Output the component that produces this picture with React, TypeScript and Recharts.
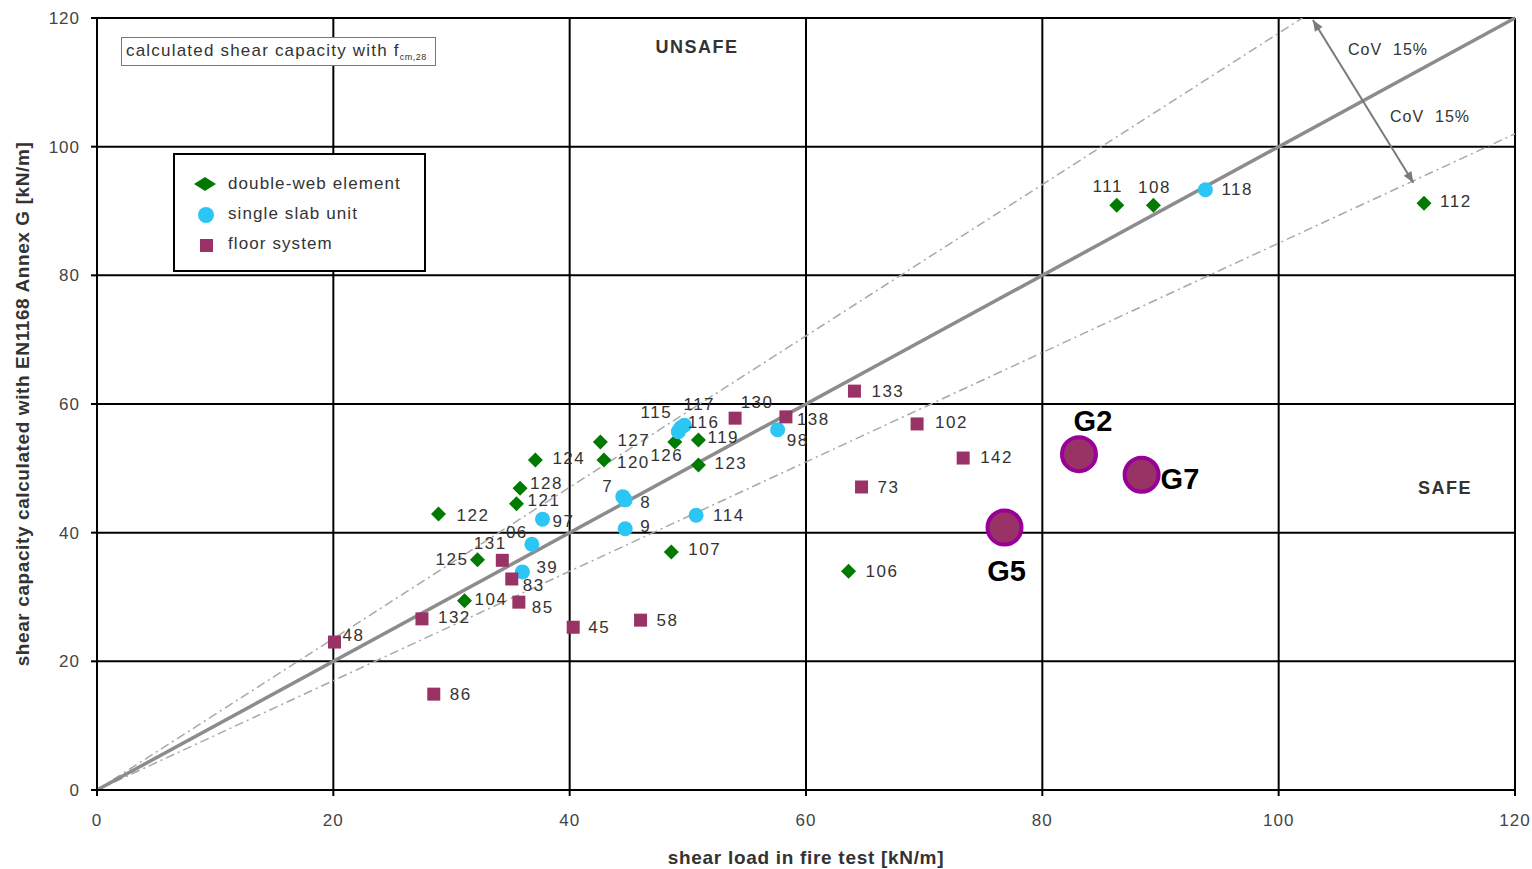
import React from "react";
import {
  ScatterChart,
  Scatter,
  XAxis,
  YAxis,
  CartesianGrid,
  ReferenceLine,
  Label,
} from "recharts";

type Pt = { x: number; y: number; label: string };

const axisTicks = [0, 20, 40, 60, 80, 100, 120];

const doubleWebPoints: Pt[] = [
  { x: 86.3, y: 90.9, label: "111" },
  { x: 89.4, y: 90.9, label: "108" },
  { x: 112.3, y: 91.2, label: "112" },
  { x: 37.1, y: 51.3, label: "124" },
  { x: 42.6, y: 54.1, label: "127" },
  { x: 42.9, y: 51.3, label: "120" },
  { x: 48.9, y: 54.1, label: "126" },
  { x: 50.9, y: 54.4, label: "119" },
  { x: 50.9, y: 50.5, label: "123" },
  { x: 35.8, y: 46.9, label: "128" },
  { x: 35.5, y: 44.5, label: "121" },
  { x: 28.9, y: 42.9, label: "122" },
  { x: 32.2, y: 35.8, label: "125" },
  { x: 31.1, y: 29.4, label: "104" },
  { x: 48.6, y: 37.0, label: "107" },
  { x: 63.6, y: 34.0, label: "106" },
];

const singleSlabPoints: Pt[] = [
  { x: 93.8, y: 93.3, label: "118" },
  { x: 49.2, y: 55.7, label: "115" },
  { x: 49.7, y: 56.7, label: "117" },
  { x: 49.4, y: 56.3, label: "116" },
  { x: 57.6, y: 56.0, label: "98" },
  { x: 44.5, y: 45.6, label: "7" },
  { x: 44.7, y: 45.1, label: "8" },
  { x: 44.7, y: 40.6, label: "9" },
  { x: 50.7, y: 42.7, label: "114" },
  { x: 37.7, y: 42.1, label: "97" },
  { x: 36.8, y: 38.2, label: "06" },
  { x: 36.0, y: 33.9, label: "39" },
];

const floorSystemPoints: Pt[] = [
  { x: 64.1, y: 62.0, label: "133" },
  { x: 69.4, y: 56.9, label: "102" },
  { x: 73.3, y: 51.6, label: "142" },
  { x: 64.7, y: 47.1, label: "73" },
  { x: 54.0, y: 57.8, label: "130" },
  { x: 58.3, y: 58.0, label: "138" },
  { x: 34.3, y: 35.7, label: "131" },
  { x: 35.1, y: 32.8, label: "83" },
  { x: 35.7, y: 29.2, label: "85" },
  { x: 27.5, y: 26.6, label: "132" },
  { x: 40.3, y: 25.3, label: "45" },
  { x: 46.0, y: 26.4, label: "58" },
  { x: 20.1, y: 23.0, label: "48" },
  { x: 28.5, y: 14.9, label: "86" },
];

const testPoints: Pt[] = [
  { x: 83.1, y: 52.2, label: "G2" },
  { x: 88.4, y: 49.0, label: "G7" },
  { x: 76.8, y: 40.8, label: "G5" },
];

// lines: y = x and the ±15 % CoV band
const meanLine = [{ x: 0, y: 0 }, { x: 120, y: 120 }];
const upperLine = [{ x: 0, y: 0 }, { x: 102, y: 120 }];
const lowerLine = [{ x: 0, y: 0 }, { x: 120, y: 102 }];
const covArrow = [{ x: 102.9, y: 119.7 }, { x: 111.4, y: 94.4 }];

const legendItems = ["double-web element", "single slab unit", "floor system"];

// label placement relative to the marker centre
type Place = { dx: number; dy: number; anchor?: "start" | "middle" | "end" };
const labelPlace: Record<string, Place> = {
  "111": { dx: -9, dy: -19, anchor: "middle" },
  "108": { dx: 1, dy: -18, anchor: "middle" },
  "112": { dx: 16, dy: -2 },
  "118": { dx: 16, dy: 0 },
  "124": { dx: 17, dy: -1 },
  "127": { dx: 17, dy: -1 },
  "120": { dx: 13, dy: 3 },
  "126": { dx: -8, dy: 14, anchor: "middle" },
  "119": { dx: 9, dy: -3 },
  "123": { dx: 16, dy: -2 },
  "115": { dx: -22, dy: -19, anchor: "middle" },
  "117": { dx: 15, dy: -21, anchor: "middle" },
  "116": { dx: 7, dy: -5 },
  "130": { dx: 22, dy: -16, anchor: "middle" },
  "138": { dx: 11, dy: 3 },
  "98": { dx: 20, dy: 11, anchor: "middle" },
  "7": { dx: -15, dy: -10, anchor: "middle" },
  "8": { dx: 15, dy: 3 },
  "9": { dx: 15, dy: -2 },
  "114": { dx: 17, dy: 0 },
  "97": { dx: 10, dy: 2 },
  "06": { dx: -15, dy: -12, anchor: "middle" },
  "39": { dx: 14, dy: -4 },
  "128": { dx: 10, dy: -5 },
  "121": { dx: 11, dy: -3 },
  "122": { dx: 18, dy: 1 },
  "131": { dx: -12, dy: -17, anchor: "middle" },
  "125": { dx: -9, dy: 0, anchor: "end" },
  "83": { dx: 11, dy: 7 },
  "104": { dx: 10, dy: -1 },
  "85": { dx: 13, dy: 5 },
  "132": { dx: 16, dy: -1 },
  "45": { dx: 15, dy: 0 },
  "58": { dx: 16, dy: 0 },
  "48": { dx: 8, dy: -7 },
  "86": { dx: 16, dy: 0 },
  "107": { dx: 17, dy: -2 },
  "106": { dx: 17, dy: 0 },
  "133": { dx: 17, dy: 0 },
  "102": { dx: 18, dy: -1 },
  "142": { dx: 17, dy: -1 },
  "73": { dx: 16, dy: 1 },
  G2: { dx: 14, dy: -33, anchor: "middle" },
  G7: { dx: 19, dy: 4 },
  G5: { dx: 2, dy: 43, anchor: "middle" },
};

const FONT = "'Liberation Sans', Arial, sans-serif";
const GREEN = "#007a00";
const CYAN = "#2cc6f4";
const MAROON = "#993366";

function PointLabel({ cx, cy, text, big }: { cx: number; cy: number; text: string; big?: boolean }) {
  const p = labelPlace[text] || { dx: 15, dy: 0 };
  return (
    <text
      x={cx + p.dx}
      y={cy + p.dy}
      textAnchor={p.anchor || "start"}
      dominantBaseline="central"
      fontFamily={FONT}
      fontSize={big ? 29 : 17}
      fontWeight={big ? 700 : 400}
      letterSpacing={big ? 0 : 1.5}
      fill={big ? "#000" : "#333"}
    >
      {text}
    </text>
  );
}

const diamondShape = (props: any) => {
  const { cx, cy, payload } = props;
  const r = 7.5;
  return (
    <g>
      <polygon
        points={`${cx},${cy - r} ${cx + r},${cy} ${cx},${cy + r} ${cx - r},${cy}`}
        fill={GREEN}
      />
      <PointLabel cx={cx} cy={cy} text={payload.label} />
    </g>
  );
};

const circleShape = (props: any) => {
  const { cx, cy, payload } = props;
  return (
    <g>
      <circle cx={cx} cy={cy} r={7.5} fill={CYAN} />
      <PointLabel cx={cx} cy={cy} text={payload.label} />
    </g>
  );
};

const squareShape = (props: any) => {
  const { cx, cy, payload } = props;
  return (
    <g>
      <rect x={cx - 6.5} y={cy - 6.5} width={13} height={13} fill={MAROON} />
      <PointLabel cx={cx} cy={cy} text={payload.label} />
    </g>
  );
};

const testShape = (props: any) => {
  const { cx, cy, payload } = props;
  return (
    <g>
      <circle cx={cx} cy={cy} r={17} fill={MAROON} stroke="#990099" strokeWidth={4} />
      <PointLabel cx={cx} cy={cy} text={payload.label} big />
    </g>
  );
};

const arrowShape = (props: any) => {
  const { x1, y1, x2, y2 } = props;
  if ([x1, y1, x2, y2].some((v) => typeof v !== "number")) return <g />;
  const a = Math.atan2(y2 - y1, x2 - x1);
  const head = (x: number, y: number, ang: number) => {
    const l = 11;
    const w = 4.5;
    const bx = x - l * Math.cos(ang);
    const by = y - l * Math.sin(ang);
    const px = -Math.sin(ang) * w;
    const py = Math.cos(ang) * w;
    return `${x},${y} ${bx + px},${by + py} ${bx - px},${by - py}`;
  };
  return (
    <g>
      <line x1={x1} y1={y1} x2={x2} y2={y2} stroke="#7a7a7a" strokeWidth={2} />
      <polygon points={head(x2, y2, a)} fill="#7a7a7a" />
      <polygon points={head(x1, y1, a + Math.PI)} fill="#7a7a7a" />
    </g>
  );
};

const noteStyle: React.CSSProperties = {
  position: "absolute",
  fontFamily: FONT,
  color: "#333",
  whiteSpace: "nowrap",
  transform: "translate(-50%, -50%)",
};

const tickStyle = { fill: "#444", fontSize: 17, fontFamily: FONT, letterSpacing: 1 };

export default function App() {
  return (
    <div
      style={{
        position: "absolute",
        left: 0,
        top: 0,
        width: 1532,
        height: 869,
        background: "#fff",
        fontFamily: FONT,
      }}
    >
      <ScatterChart width={1532} height={869} margin={{ top: 18, right: 17, bottom: 0, left: 0 }}>
        <CartesianGrid stroke="#000" strokeWidth={2} />
        <XAxis
          type="number"
          dataKey="x"
          domain={[0, 120]}
          ticks={axisTicks}
          height={79}
          tickSize={6}
          tickMargin={18}
          stroke="#000"
          strokeWidth={2}
          tick={tickStyle}
          allowDataOverflow
        >
          <Label
            content={(p: any) => {
              const vb = p.viewBox || {};
              return (
                <text
                  x={vb.x + vb.width / 2}
                  y={vb.y + 67}
                  textAnchor="middle"
                  dominantBaseline="central"
                  fontFamily={FONT}
                  fontSize={19}
                  fontWeight={700}
                  letterSpacing={0.7}
                  fill="#333"
                >
                  shear load in fire test [kN/m]
                </text>
              );
            }}
          />
        </XAxis>
        <YAxis
          type="number"
          dataKey="y"
          domain={[0, 120]}
          ticks={axisTicks}
          width={97}
          tickSize={6}
          tickMargin={11}
          stroke="#000"
          strokeWidth={2}
          tick={tickStyle}
          allowDataOverflow
        >
          <Label
            content={(p: any) => {
              const vb = p.viewBox || {};
              const x = vb.x + 22;
              const y = vb.y + vb.height / 2;
              return (
                <text
                  x={x}
                  y={y}
                  transform={`rotate(-90 ${x} ${y})`}
                  textAnchor="middle"
                  dominantBaseline="central"
                  fontFamily={FONT}
                  fontSize={19}
                  fontWeight={700}
                  letterSpacing={0.6}
                  fill="#333"
                >
                  shear capacity calculated with EN1168 Annex G [kN/m]
                </text>
              );
            }}
          />
        </YAxis>
        <ReferenceLine
          segment={upperLine}
          stroke="#a8a8a8"
          strokeWidth={1.5}
          strokeDasharray="9 4 2 4"
          ifOverflow="hidden"
        />
        <ReferenceLine
          segment={lowerLine}
          stroke="#a8a8a8"
          strokeWidth={1.5}
          strokeDasharray="9 4 2 4"
          ifOverflow="hidden"
        />
        <ReferenceLine segment={meanLine} stroke="#8c8c8c" strokeWidth={3.5} />
        <ReferenceLine segment={covArrow} shape={arrowShape} />
        <Scatter data={doubleWebPoints} shape={diamondShape} isAnimationActive={false} />
        <Scatter data={singleSlabPoints} shape={circleShape} isAnimationActive={false} />
        <Scatter data={floorSystemPoints} shape={squareShape} isAnimationActive={false} />
        <Scatter data={testPoints} shape={testShape} isAnimationActive={false} />
      </ScatterChart>

      {/* boxed note */}
      <div
        style={{
          position: "absolute",
          left: 121,
          top: 37,
          width: 315,
          height: 29,
          border: "1.5px solid #777",
          boxSizing: "border-box",
          fontFamily: FONT,
          fontSize: 17,
          letterSpacing: 1.2,
          color: "#333",
          lineHeight: "26px",
          paddingLeft: 4,
          whiteSpace: "nowrap",
          background: "#fff",
        }}
      >
        calculated shear capacity with f
        <sub style={{ fontSize: 9, letterSpacing: 0.5 }}>cm,28</sub>
      </div>

      {/* legend */}
      <div
        style={{
          position: "absolute",
          left: 173,
          top: 153,
          width: 253,
          height: 119,
          border: "2px solid #000",
          boxSizing: "border-box",
          background: "#fff",
          fontFamily: FONT,
          fontSize: 17,
          letterSpacing: 1.1,
          color: "#333",
        }}
      >
        {legendItems.map((name, i) => (
          <div
            key={name}
            style={{ position: "absolute", left: 0, top: 18 + i * 30, height: 24, width: 250 }}
          >
            <svg width={30} height={24} style={{ position: "absolute", left: 17, top: 0 }}>
              {i === 0 && <polygon points="13,4 24,11 13,18 2,11" fill={GREEN} />}
              {i === 1 && <circle cx={14} cy={12} r={8} fill={CYAN} />}
              {i === 2 && <rect x={8} y={6} width={13} height={13} fill={MAROON} />}
            </svg>
            <span style={{ position: "absolute", left: 53, top: 1, whiteSpace: "nowrap" }}>{name}</span>
          </div>
        ))}
      </div>

      <div style={{ ...noteStyle, left: 697, top: 47, fontSize: 18, fontWeight: 700, letterSpacing: 1.5 }}>UNSAFE</div>
      <div style={{ ...noteStyle, left: 1445, top: 488, fontSize: 18, fontWeight: 700, letterSpacing: 1.5 }}>SAFE</div>
      <div style={{ ...noteStyle, left: 1388, top: 50, fontSize: 16, letterSpacing: 1 }}>CoV&nbsp; 15%</div>
      <div style={{ ...noteStyle, left: 1430, top: 117, fontSize: 16, letterSpacing: 1 }}>CoV&nbsp; 15%</div>
    </div>
  );
}
